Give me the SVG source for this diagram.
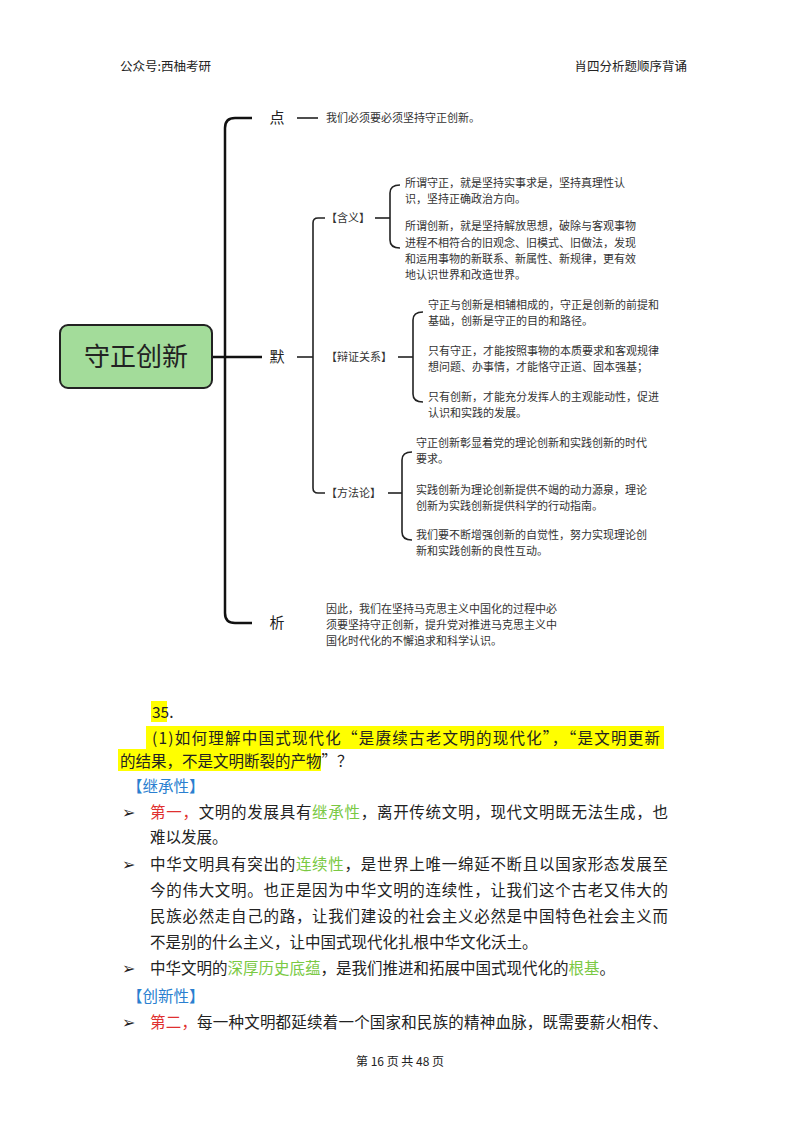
<svg xmlns="http://www.w3.org/2000/svg" width="800" height="1132" viewBox="0 0 800 1132">
<style>
text{font-family:"Noto Sans CJK SC","Noto Sans",sans-serif;fill:#222}
.h{font-size:12.5px}
.m{font-size:11px;fill:#333}
.lb{font-size:15px}
.b{font-size:15.5px}
.br{fill:none;stroke:#111;stroke-width:2.5}
.sb{fill:none;stroke:#222;stroke-width:1.6}
.blue{fill:#2a7fd0}
.red{fill:#e03030}
.grn{fill:#7ac943}
.hl{fill:#ffff00}
</style>
<rect width="800" height="1132" fill="#fff"/>
<text class="h" x="120" y="71">公众号:西柚考研</text>
<text class="h" x="687" y="71" text-anchor="end">肖四分析题顺序背诵</text>

<g id="connectors">
<line class="br" x1="212" y1="357" x2="262" y2="357"/>
<path class="br" d="M252,118 H235 Q225,118 225,128 V613 Q225,623 235,623 H252"/>
<line class="sb" x1="297" y1="118" x2="318" y2="118"/>
<line class="sb" x1="297" y1="357" x2="313" y2="357"/>
<path class="sb" d="M325,218 H318 Q313,218 313,223 V488 Q313,493 318,493 H325"/>
<line class="sb" x1="375" y1="218" x2="390" y2="218"/>
<path class="sb" d="M400,185 Q390,185 390,193 V240 Q390,248 400,248"/>
<line class="sb" x1="398" y1="357" x2="413" y2="357"/>
<path class="sb" d="M423,312 Q413,312 413,320 V394 Q413,402 423,402"/>
<line class="sb" x1="388" y1="493" x2="402" y2="493"/>
<path class="sb" d="M412,452 Q402,452 402,460 V532 Q402,540 412,540"/>
</g>

<g id="root">
<rect x="60" y="325" width="152" height="63" rx="8" fill="#a3dc9a" stroke="#222" stroke-width="2"/>
<text x="136" y="366" font-size="26" text-anchor="middle">守正创新</text>
</g>
<g id="dian"><text class="lb" x="277" y="123" text-anchor="middle">点</text>
<text class="m" x="326" y="122">我们必须要必须坚持守正创新。</text></g>
<g id="mo"><text class="lb" x="277" y="362" text-anchor="middle">默</text></g>
<g id="xi"><text class="lb" x="277" y="628" text-anchor="middle">析</text>
<text class="m" x="326" y="613">因此，我们在坚持马克思主义中国化的过程中必</text>
<text class="m" x="326" y="629">须要坚持守正创新，提升党对推进马克思主义中</text>
<text class="m" x="326" y="645">国化时代化的不懈追求和科学认识。</text></g>

<g id="hanyi"><text class="m" x="326" y="222">【含义】</text>
<text class="m" x="405" y="187">所谓守正，就是坚持实事求是，坚持真理性认</text>
<text class="m" x="405" y="203">识，坚持正确政治方向。</text>
<text class="m" x="405" y="230">所谓创新，就是坚持解放思想，破除与客观事物</text>
<text class="m" x="405" y="247">进程不相符合的旧观念、旧模式、旧做法，发现</text>
<text class="m" x="405" y="263">和运用事物的新联系、新属性、新规律，更有效</text>
<text class="m" x="405" y="279">地认识世界和改造世界。</text></g>

<g id="bianzheng"><text class="m" x="326" y="361">【辩证关系】</text>
<text class="m" x="428" y="309">守正与创新是相辅相成的，守正是创新的前提和</text>
<text class="m" x="428" y="325">基础，创新是守正的目的和路径。</text>
<text class="m" x="428" y="355">只有守正，才能按照事物的本质要求和客观规律</text>
<text class="m" x="428" y="371">想问题、办事情，才能恪守正道、固本强基；</text>
<text class="m" x="428" y="401">只有创新，才能充分发挥人的主观能动性，促进</text>
<text class="m" x="428" y="417">认识和实践的发展。</text></g>

<g id="fangfa"><text class="m" x="326" y="497">【方法论】</text>
<text class="m" x="416" y="447">守正创新彰显着党的理论创新和实践创新的时代</text>
<text class="m" x="416" y="463">要求。</text>
<text class="m" x="416" y="494">实践创新为理论创新提供不竭的动力源泉，理论</text>
<text class="m" x="416" y="510">创新为实践创新提供科学的行动指南。</text>
<text class="m" x="416" y="539">我们要不断增强创新的自觉性，努力实现理论创</text>
<text class="m" x="416" y="555">新和实践创新的良性互动。</text></g>

<g id="body">
<rect class="hl" x="151" y="701" width="16" height="21"/>
<rect class="hl" x="146" y="726" width="518" height="23"/>
<rect class="hl" x="118" y="749" width="203" height="22"/>
<text class="b" x="152" y="718">35.</text>
<text class="b" x="152" y="744" textLength="508" lengthAdjust="spacing">(1)如何理解中国式现代化“是赓续古老文明的现代化”，“是文明更新</text>
<text class="b" x="120" y="767">的结果，不是文明断裂的产物”？</text>
<text class="b blue" x="127" y="792">【继承性】</text>
<text class="b" x="122" y="818">➢</text>
<text class="b" x="150" y="818" textLength="518" lengthAdjust="spacing"><tspan class="red">第一，</tspan>文明的发展具有<tspan class="grn">继承性</tspan>，离开传统文明，现代文明既无法生成，也</text>
<text class="b" x="150" y="843">难以发展。</text>
<text class="b" x="122" y="870">➢</text>
<text class="b" x="150" y="870" textLength="518" lengthAdjust="spacing">中华文明具有突出的<tspan class="grn">连续性</tspan>，是世界上唯一绵延不断且以国家形态发展至</text>
<text class="b" x="150" y="896" textLength="518" lengthAdjust="spacing">今的伟大文明。也正是因为中华文明的连续性，让我们这个古老又伟大的</text>
<text class="b" x="150" y="922" textLength="518" lengthAdjust="spacing">民族必然走自己的路，让我们建设的社会主义必然是中国特色社会主义而</text>
<text class="b" x="150" y="948">不是别的什么主义，让中国式现代化扎根中华文化沃土。</text>
<text class="b" x="122" y="974">➢</text>
<text class="b" x="150" y="974">中华文明的<tspan class="grn">深厚历史底蕴</tspan>，是我们推进和拓展中国式现代化的<tspan class="grn">根基</tspan>。</text>
<text class="b blue" x="127" y="1002">【创新性】</text>
<text class="b" x="122" y="1028">➢</text>
<text class="b" x="150" y="1028" textLength="518" lengthAdjust="spacing"><tspan class="red">第二，</tspan>每一种文明都延续着一个国家和民族的精神血脉，既需要薪火相传、</text>
<text x="400" y="1066" font-size="12" text-anchor="middle">第 16 页 共 48 页</text>
</g>
</svg>
